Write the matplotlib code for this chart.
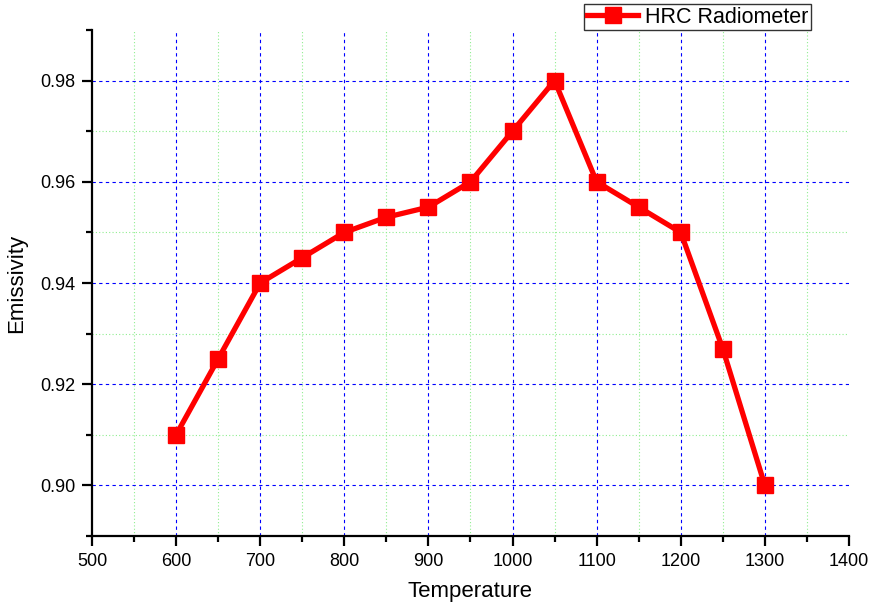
import matplotlib
matplotlib.use("Agg")
import matplotlib.pyplot as plt
from matplotlib.ticker import MultipleLocator, FormatStrFormatter

plt.rcParams['font.family'] = ['Liberation Sans', 'DejaVu Sans']

temperature = [600, 650, 700, 750, 800, 850, 900, 950, 1000, 1050, 1100, 1150, 1200, 1250, 1300]
emissivity = [0.910, 0.925, 0.940, 0.945, 0.950, 0.953, 0.955, 0.960, 0.970, 0.980, 0.960, 0.955, 0.950, 0.927, 0.900]

fig = plt.figure(figsize=(8.71, 6.05), dpi=100)
ax = fig.add_axes([0.1056, 0.114, 0.8691, 0.8364])

ax.plot(temperature, emissivity, color='#ff0000', linewidth=3.8, marker='s',
        markersize=12, markerfacecolor='#ff0000', markeredgecolor='#ff0000',
        label='HRC Radiometer', zorder=3)

ax.set_xlim(500, 1400)
ax.set_ylim(0.89, 0.99)
ax.xaxis.set_major_locator(MultipleLocator(100))
ax.xaxis.set_minor_locator(MultipleLocator(50))
ax.yaxis.set_major_locator(MultipleLocator(0.02))
ax.yaxis.set_minor_locator(MultipleLocator(0.01))
ax.yaxis.set_major_formatter(FormatStrFormatter('%.2f'))

ax.grid(which='major', color='#0000ff', linestyle=(0, (3, 3)), linewidth=0.8)
ax.grid(which='minor', color='#90ee90', linestyle=(0, (1, 2)), linewidth=0.8)
ax.set_axisbelow(True)

for s in ['top', 'right']:
    ax.spines[s].set_visible(False)
for s in ['left', 'bottom']:
    ax.spines[s].set_linewidth(1.6)

ax.tick_params(which='major', direction='out', length=7, width=1.6, labelsize=13, colors='black', pad=5)
ax.tick_params(which='minor', direction='out', length=4, width=1.6)

ax.set_xlabel('Temperature', fontsize=16, labelpad=8)
ax.set_ylabel('Emissivity', fontsize=16, labelpad=9)

fig.canvas.draw()
# hide grid lines lying on the axes edges
for axis, lo, hi in [(ax.xaxis, 500, 1400), (ax.yaxis, 0.89, 0.99)]:
    for tick in list(axis.get_major_ticks()) + list(axis.get_minor_ticks()):
        loc = tick.get_loc()
        if loc is not None and (abs(loc - lo) < 1e-6 * max(1, abs(lo)) or abs(loc - hi) < 1e-6 * max(1, abs(hi))):
            tick.gridline.set_visible(False)

leg = ax.legend(loc='upper right', bbox_to_anchor=(0.931, 0.993), bbox_transform=fig.transFigure,
                fontsize=15.5, frameon=True, fancybox=False, borderpad=0.12,
                handlelength=2.4, handletextpad=0.3, borderaxespad=0, markerscale=1.0)
leg.get_frame().set_edgecolor('black')
leg.get_frame().set_linewidth(1.0)

fig.savefig('out.png', dpi=100)
